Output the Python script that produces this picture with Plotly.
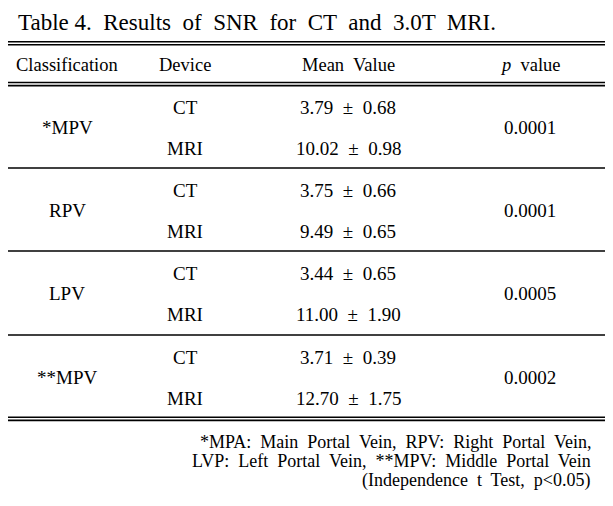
import plotly.graph_objects as go

title = "Table 4.  Results  of  SNR  for  CT  and  3.0T  MRI."
headers = ["Classification", "Device", "Mean  Value", "<i>p</i>  value"]
classifications = ["*MPV", "RPV", "LPV", "**MPV"]
devices = ["CT", "MRI"]
ct_mean = [3.79, 3.75, 3.44, 3.71]
ct_sd = [0.68, 0.66, 0.65, 0.39]
mri_mean = [10.02, 9.49, 11.00, 12.70]
mri_sd = [0.98, 0.65, 1.90, 1.75]
p_values = ["0.0001", "0.0001", "0.0005", "0.0002"]
footnotes = [
    "*MPA:  Main  Portal  Vein,  RPV:  Right  Portal  Vein,",
    "LVP:  Left  Portal  Vein,  **MPV:  Middle  Portal  Vein",
    "(Independence  t  Test,  p<0.05)",
]

W, H = 613, 506
OFF = 8  # page body margin compensation
FONT = '"Liberation Serif", "DejaVu Serif", serif'
col_x = [67, 185, 348, 530]
header_y = 65
group_top = [85, 168, 251, 335]

fig = go.Figure()
fig.update_layout(
    width=W, height=H, margin=dict(l=0, r=0, t=0, b=0),
    paper_bgcolor="white", plot_bgcolor="white",
    font=dict(family=FONT, color="black"),
    xaxis=dict(range=[OFF, W + OFF], visible=False, fixedrange=True),
    yaxis=dict(range=[H + OFF, OFF], visible=False, fixedrange=True),
    showlegend=False,
)

def text(x, y, s, size=19, anchor="center"):
    fig.add_annotation(x=x, y=y, text=s, showarrow=False, xanchor=anchor,
                       yanchor="middle", font=dict(family=FONT, size=size, color="black"))

def hline(y, w=1.6):
    fig.add_shape(type="line", x0=2, x1=610, y0=y, y1=y, line=dict(color="black", width=w))

text(16, 22, title, size=23, anchor="left")
hline(41.7); hline(44.8)
for x, h in zip(col_x, headers):
    text(x, header_y, h, size=18.5)
hline(82.5); hline(85.6)

for i, c in enumerate(classifications):
    yc_ct = group_top[i] + 22
    yc_mri = group_top[i] + 63
    ymid = (yc_ct + yc_mri) / 2
    text(col_x[0], ymid, c)
    text(col_x[1], yc_ct, devices[0])
    text(col_x[1], yc_mri, devices[1])
    text(col_x[2], yc_ct, f"{ct_mean[i]:.2f}  ±  {ct_sd[i]:.2f}")
    text(col_x[2], yc_mri, f"{mri_mean[i]:.2f}  ±  {mri_sd[i]:.2f}")
    text(col_x[3], ymid, p_values[i])
    if i < 3:
        hline(group_top[i + 1])

hline(417.2); hline(420.4)
for j, f in enumerate(footnotes):
    text(593, 442 + j * 19.2, f, size=18, anchor="right")

fig.write_html("out.html")
